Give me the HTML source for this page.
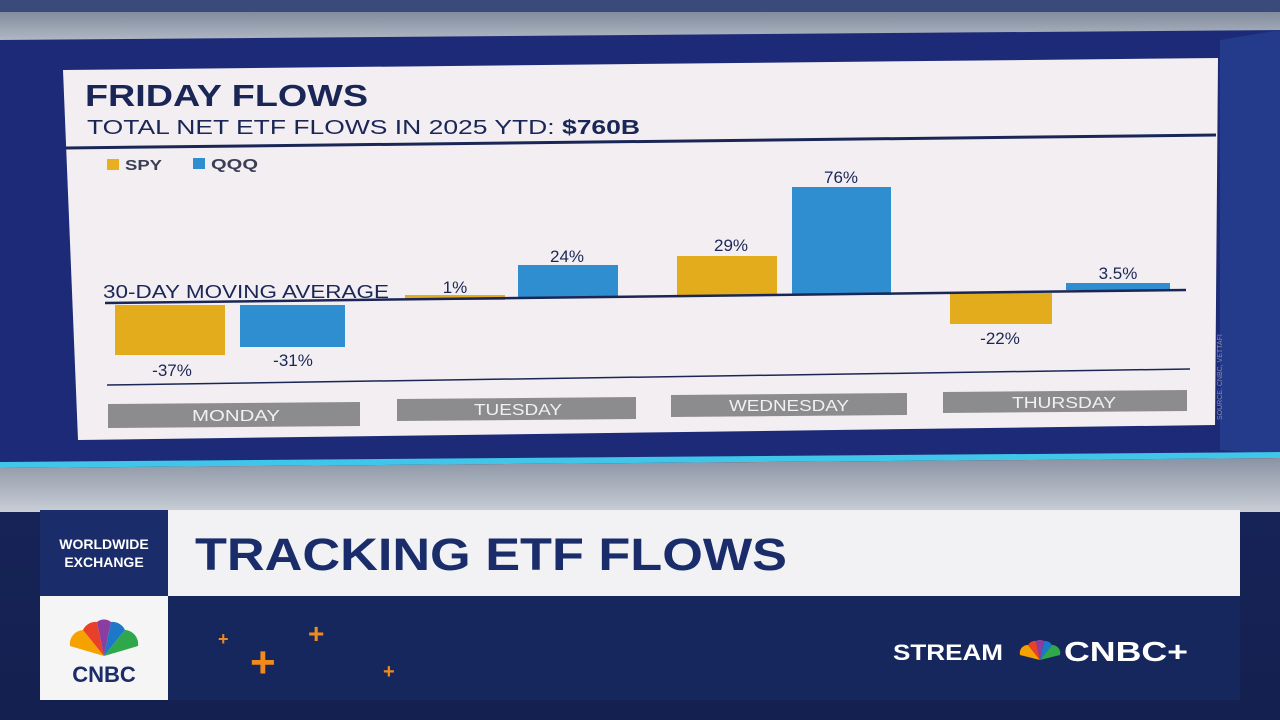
<!DOCTYPE html>
<html><head><meta charset="utf-8"><style>
html,body{margin:0;padding:0;width:1280px;height:720px;overflow:hidden;background:#1a2340}
svg{display:block}
text{font-family:"Liberation Sans",sans-serif}
</style></head><body>
<svg width="1280" height="720" viewBox="0 0 1280 720">
<defs>
<linearGradient id="bg" x1="0" y1="0" x2="0" y2="1">
<stop offset="0" stop-color="#1b2a6a"/><stop offset="1" stop-color="#14204f"/></linearGradient>
<linearGradient id="top" x1="0" y1="0" x2="0" y2="1">
<stop offset="0" stop-color="#6f7a8c"/><stop offset="1" stop-color="#b9c0cc"/></linearGradient>
<linearGradient id="floor" x1="0" y1="0" x2="0" y2="1">
<stop offset="0" stop-color="#8a93a3"/><stop offset="1" stop-color="#c9ced6"/></linearGradient>
</defs>
<rect width="1280" height="720" fill="url(#bg)"/>
<rect x="0" y="0" width="1280" height="46" fill="url(#top)"/>
<rect x="0" y="0" width="1280" height="12" fill="#3a4a7a"/>
<polygon points="0,40 1280,30 1280,455 0,462" fill="#1c2a78"/>
<polygon points="1220,40 1280,30 1280,455 1220,450" fill="#243a8a"/>
<polygon points="0,462 1280,452 1280,458 0,468" fill="#3fc6e8"/>
<polygon points="0,468 1280,458 1280,512 0,512" fill="url(#floor)"/>
<polygon points="63,70 1218,58 1215,425 78,440" fill="#f3eef2"/>
<text x="85" y="106" font-size="31" font-weight="bold" fill="#1a2756" textLength="283" lengthAdjust="spacingAndGlyphs">FRIDAY FLOWS</text>
<text x="87" y="134" font-size="20" fill="#1a2756" textLength="553" lengthAdjust="spacingAndGlyphs">TOTAL NET ETF FLOWS IN 2025 YTD: <tspan font-weight="bold">$760B</tspan></text>
<line x1="66" y1="148" x2="1216" y2="135" stroke="#1a2756" stroke-width="3"/>
<rect x="107" y="159" width="12" height="11" fill="#e8b020"/>
<text x="125" y="170" font-size="15" font-weight="bold" fill="#3a3f55" textLength="37" lengthAdjust="spacingAndGlyphs">SPY</text>
<rect x="193" y="158" width="12" height="11" fill="#2f8ed0"/>
<text x="211" y="169" font-size="15" font-weight="bold" fill="#3a3f55" textLength="47" lengthAdjust="spacingAndGlyphs">QQQ</text>
<rect x="115" y="305" width="110" height="50" fill="#e3ac1c"/>
<rect x="240" y="305" width="105" height="42" fill="#2e8ecf"/>
<rect x="405" y="295" width="100" height="5" fill="#e3ac1c"/>
<rect x="518" y="265" width="100" height="33" fill="#2e8ecf"/>
<rect x="677" y="256" width="100" height="40" fill="#e3ac1c"/>
<rect x="792" y="187" width="99" height="108" fill="#2e8ecf"/>
<rect x="950" y="293" width="102" height="31" fill="#e3ac1c"/>
<rect x="1066" y="283" width="104" height="7" fill="#2e8ecf"/>
<line x1="105" y1="303" x2="1186" y2="290" stroke="#1a2756" stroke-width="2.5"/>
<text x="103" y="298" font-size="18" fill="#1a2756" textLength="286" lengthAdjust="spacingAndGlyphs">30-DAY MOVING AVERAGE</text>
<g font-size="17" fill="#1a2756" text-anchor="middle">
<text x="172" y="376">-37%</text><text x="293" y="366">-31%</text>
<text x="455" y="293">1%</text><text x="567" y="262">24%</text>
<text x="731" y="251">29%</text><text x="841" y="183">76%</text>
<text x="1000" y="344">-22%</text><text x="1118" y="279">3.5%</text>
</g>
<line x1="107" y1="385" x2="1190" y2="369" stroke="#1a2756" stroke-width="1.5"/>
<polygon points="108,404 360,402 360,426 108,428" fill="#8c8c8e"/>
<polygon points="397,399 636,397 636,419 397,421" fill="#8c8c8e"/>
<polygon points="671,395 907,393 907,415 671,417" fill="#8c8c8e"/>
<polygon points="943,392 1187,390 1187,411 943,413" fill="#8c8c8e"/>
<g font-size="16" fill="#f0f0f0" text-anchor="middle">
<text x="236" y="421" textLength="88" lengthAdjust="spacingAndGlyphs">MONDAY</text>
<text x="518" y="415" textLength="88" lengthAdjust="spacingAndGlyphs">TUESDAY</text>
<text x="789" y="411" textLength="120" lengthAdjust="spacingAndGlyphs">WEDNESDAY</text>
<text x="1064" y="408" textLength="104" lengthAdjust="spacingAndGlyphs">THURSDAY</text>
</g>
<text x="1222" y="420" font-size="7" fill="#8a8fa8" transform="rotate(-90 1222 420)">SOURCE: CNBC, VETTAFI</text>
<rect x="40" y="510" width="1200" height="86" fill="#f2f2f4"/>
<rect x="40" y="510" width="128" height="86" fill="#1a2d6a"/>
<text x="104" y="549" font-size="14" font-weight="bold" fill="#fff" text-anchor="middle">WORLDWIDE</text>
<text x="104" y="567" font-size="14" font-weight="bold" fill="#fff" text-anchor="middle">EXCHANGE</text>
<text x="195" y="570" font-size="45" font-weight="bold" fill="#1a2d6a" textLength="592" lengthAdjust="spacingAndGlyphs">TRACKING ETF FLOWS</text>
<rect x="40" y="596" width="1200" height="104" fill="#16275e"/>
<rect x="40" y="596" width="128" height="104" fill="#f5f5f5"/>
<g transform="translate(104,656)">
<path d="M0,0 L-34,-10 A14,14 0 0 1 -21,-26 Z" fill="#f5a100"/>
<path d="M0,0 L-21,-26 A14,14 0 0 1 -7,-34 Z" fill="#e8402a"/>
<path d="M0,0 L-7,-34 A11,11 0 0 1 7,-34 Z" fill="#8a3fa0"/>
<path d="M0,0 L7,-34 A14,14 0 0 1 21,-26 Z" fill="#1e78c8"/>
<path d="M0,0 L21,-26 A14,14 0 0 1 34,-10 Z" fill="#2ea84a"/>
</g>
<text x="104" y="682" font-size="22" font-weight="bold" fill="#1a2d6a" text-anchor="middle">CNBC</text>
<g fill="#f08a1a" font-weight="bold">
<text x="218" y="645" font-size="18">+</text>
<text x="308" y="643" font-size="28">+</text>
<text x="250" y="677" font-size="44">+</text>
<text x="383" y="678" font-size="20">+</text>
</g>
<text x="893" y="660" font-size="22" font-weight="bold" fill="#fff" textLength="110" lengthAdjust="spacingAndGlyphs">STREAM</text>
<g transform="translate(1040,660)">
<path d="M0,0 L-20,-5 A8,8 0 0 1 -12,-15 Z" fill="#f5a100"/>
<path d="M0,0 L-12,-15 A8,8 0 0 1 -4,-19 Z" fill="#e8402a"/>
<path d="M0,0 L-4,-19 A7,7 0 0 1 4,-19 Z" fill="#8a3fa0"/>
<path d="M0,0 L4,-19 A8,8 0 0 1 12,-15 Z" fill="#1e78c8"/>
<path d="M0,0 L12,-15 A8,8 0 0 1 20,-5 Z" fill="#2ea84a"/>
</g>
<text x="1064" y="661" font-size="28" font-weight="bold" fill="#fff" textLength="124" lengthAdjust="spacingAndGlyphs">CNBC+</text>
</svg>
</body></html>
